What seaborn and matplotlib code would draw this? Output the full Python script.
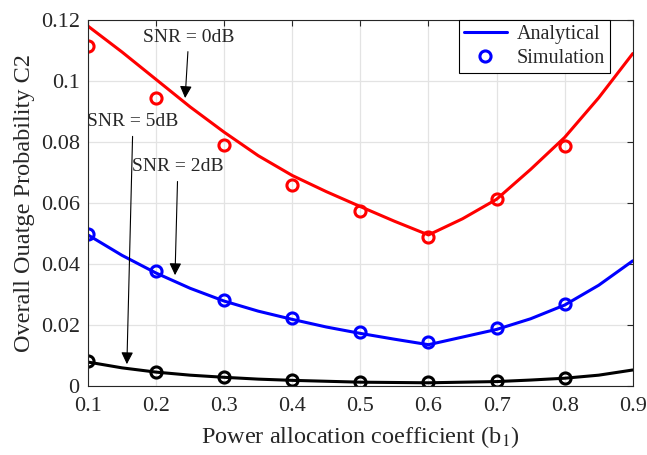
import numpy as np
import pandas as pd
import seaborn as sns
import matplotlib
matplotlib.use("Agg")
import matplotlib.pyplot as plt
from matplotlib.lines import Line2D

# Analytical curves (at 0.05 steps)
b_fine = [0.10, 0.15, 0.20, 0.25, 0.30, 0.35, 0.40, 0.45, 0.50,
          0.55, 0.60, 0.65, 0.70, 0.75, 0.80, 0.85, 0.90]
ana_0db = [0.118, 0.1095, 0.1005, 0.0915, 0.0832, 0.0755, 0.069, 0.0637, 0.0588,
           0.054, 0.0495, 0.0548, 0.0612, 0.071, 0.0815, 0.0945, 0.109]
ana_2db = [0.0495, 0.0428, 0.0370, 0.0320, 0.0278, 0.0245, 0.0218, 0.0193, 0.0172,
           0.0153, 0.0135, 0.016, 0.0185, 0.022, 0.0265, 0.033, 0.041]
ana_5db = [0.0078, 0.0059, 0.0045, 0.0035, 0.0028, 0.0022, 0.0018, 0.0015, 0.0012,
           0.0011, 0.0010, 0.0012, 0.0014, 0.0019, 0.0025, 0.0035, 0.0052]

# Simulation points
b_sim = [0.1, 0.2, 0.3, 0.4, 0.5, 0.6, 0.7, 0.8]
sim_0db = [0.1115, 0.0944, 0.079, 0.0659, 0.0574, 0.0489, 0.0613, 0.0787]
sim_2db = [0.0498, 0.0378, 0.0282, 0.0224, 0.0178, 0.0145, 0.0191, 0.0269]
sim_5db = [0.0082, 0.0045, 0.0028, 0.0020, 0.0014, 0.0011, 0.0015, 0.0027]

snr_labels = ["0dB", "2dB", "5dB"]
colors = {"0dB": "#ff0000", "2dB": "#0000ff", "5dB": "#000000"}

ana = pd.DataFrame({
    "b": b_fine * 3,
    "p": ana_0db + ana_2db + ana_5db,
    "snr": np.repeat(snr_labels, len(b_fine)),
})
sim = pd.DataFrame({
    "b": b_sim * 3,
    "p": sim_0db + sim_2db + sim_5db,
    "snr": np.repeat(snr_labels, len(b_sim)),
})

sns.set_theme(style="whitegrid")
plt.rcParams["font.family"] = ["Liberation Serif", "DejaVu Serif"]
plt.rcParams["mathtext.fontset"] = "stix"

fig = plt.figure(figsize=(6.47, 4.55), dpi=100)
ax = fig.add_axes([0.136, 0.152, 0.842, 0.804])

sns.lineplot(data=ana, x="b", y="p", hue="snr", palette=colors, lw=2.2,
             legend=False, ax=ax)
for s in snr_labels:
    d = sim[sim["snr"] == s]
    ax.plot(d["b"], d["p"], ls="none", marker="o", ms=8, mfc="none",
            mec=colors[s], mew=2.2)

ax.set_xlim(0.1, 0.9)
ax.set_ylim(0, 0.12)
ax.set_xticks(np.arange(0.1, 0.91, 0.1))
ax.set_yticks(np.arange(0, 0.121, 0.02))
ax.set_xticklabels(["0.1", "0.2", "0.3", "0.4", "0.5", "0.6", "0.7", "0.8", "0.9"])
ax.set_yticklabels(["0", "0.02", "0.04", "0.06", "0.08", "0.1", "0.12"])
ax.tick_params(direction="in", top=True, right=True, length=4, width=0.8,
               labelsize=16, colors="#262626")
ax.tick_params(axis="x", pad=8)
ax.tick_params(axis="y", pad=6)
ax.grid(True, color="#e3e3e3", lw=0.9)
for sp in ax.spines.values():
    sp.set_color("#262626")
    sp.set_linewidth(0.8)

ax.set_xlabel("Power allocation coefficient (b$_1$)", fontsize=17.5,
              color="#262626", labelpad=6)
ax.set_ylabel("Overall Ouatge Probability C2", fontsize=17.5,
              color="#262626", labelpad=4)

arrow = dict(arrowstyle="-|>", color="black", lw=0.8, mutation_scale=18)
ax.annotate("SNR = 0dB", xy=(0.2424, 0.0935), xytext=(0.248, 0.1144),
            ha="center", va="center", fontsize=14, arrowprops=arrow)
ax.annotate("SNR = 5dB", xy=(0.157, 0.0062), xytext=(0.166, 0.0866),
            ha="center", va="center", fontsize=14, arrowprops=arrow)
ax.annotate("SNR = 2dB", xy=(0.2277, 0.0354), xytext=(0.232, 0.0718),
            ha="center", va="center", fontsize=14, arrowprops=arrow)

handles = [Line2D([], [], color="#0000ff", lw=2.2),
           Line2D([], [], ls="none", marker="o", ms=8, mfc="none",
                  mec="#0000ff", mew=2.2)]
leg = ax.legend(handles, ["Analytical", "Simulation"], loc="upper right",
                fontsize=14.5, frameon=True, fancybox=False, framealpha=1,
                borderpad=0.25, handlelength=2.1, handletextpad=0.5,
                labelspacing=0.25, borderaxespad=0.0,
                bbox_to_anchor=(0.958, 1.0))
leg.get_frame().set_edgecolor("black")
leg.get_frame().set_linewidth(0.8)

fig.savefig("out.png", dpi=100)
